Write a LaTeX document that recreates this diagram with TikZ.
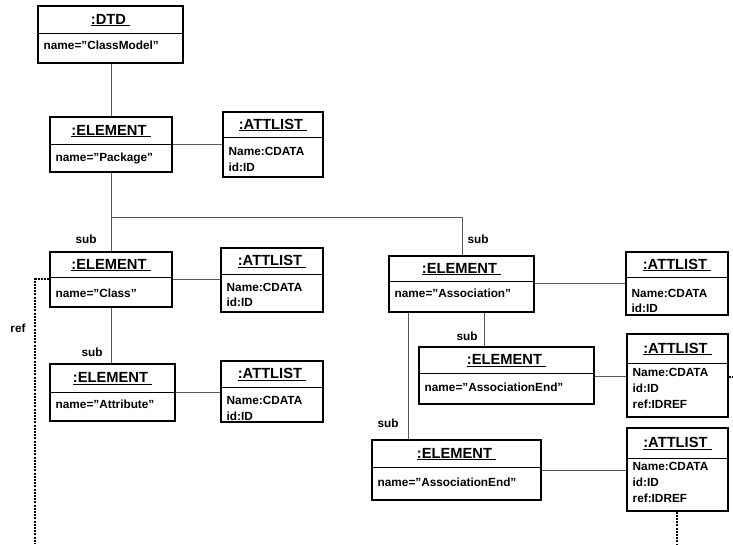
\documentclass[tikz,border=0pt]{standalone}
\usepackage{fontspec}
\setmainfont{Liberation Sans}
\usetikzlibrary{fit}
\tikzset{
  objframe/.style={draw=black, line width=1.2pt, inner sep=0pt},
  divline/.style={draw=black, line width=1pt},
  titletext/.style={font=\fontsize{14.7}{17}\selectfont\bfseries, inner sep=0pt},
  bodytext/.style={font=\fontsize{11.8}{15.8}\selectfont\bfseries, inner sep=0pt, align=left},
  tightbody/.style={font=\fontsize{11.8}{14.4}\selectfont\bfseries},
  lbl/.style={font=\fontsize{11.8}{14}\selectfont\bfseries, inner sep=0pt},
  conn/.style={draw=black!65, line width=0.9pt},
  refline/.style={draw=black, line width=1.4pt, dash pattern=on 2pt off 1.2pt},
}
% name, left, top, right, bottom, divider y, title
\newcommand\umlobj[7]{%
  \node[objframe, fit={(#2,#3)(#4,#5)}] (#1) {};
  \draw[divline] (#1.west |- 0,#6) -- (#1.east |- 0,#6);
  \node[titletext, anchor=base] (#1-title) at ({(#2+#4)/2},{(#3+#6)/2+4.5}) {\underline{#7\ }};
}
\begin{document}
\begin{tikzpicture}[x=1pt, y=-1pt]
\useasboundingbox (0,0) rectangle (733,544);

% objects
\umlobj{dtd}{38}{6}{183}{63}{33}{:DTD}
\node[bodytext, anchor=north west] (dtd-body) at (43.5,40.7) {name=”ClassModel”};

\umlobj{pkg}{50}{117}{172}{172}{144}{:ELEMENT}
\node[bodytext, anchor=north west] (pkg-body) at (55.5,152.7) {name=”Package”};

\umlobj{pkgatt}{223}{112}{323}{177}{137}{:ATTLIST}
\node[bodytext, anchor=north west] (pkgatt-body) at (228.5,147.5) {Name:CDATA\\id:ID};

\umlobj{cls}{50}{252}{172}{307}{277}{:ELEMENT}
\node[bodytext, anchor=north west] (cls-body) at (55.5,288.4) {name=”Class”};

\umlobj{clsatt}{221}{248}{323}{312}{274}{:ATTLIST}
\node[bodytext, anchor=north west] (clsatt-body) at (226.5,282.7) {Name:CDATA\\id:ID};

\umlobj{attr}{50}{364}{175}{421}{392}{:ELEMENT}
\node[bodytext, anchor=north west] (attr-body) at (55.5,399.7) {name=”Attribute”};

\umlobj{attratt}{221}{361}{323}{422}{387}{:ATTLIST}
\node[bodytext, anchor=north west] (attratt-body) at (226.5,396) {Name:CDATA\\id:ID};

\umlobj{assoc}{389}{256}{534}{312}{281}{:ELEMENT}
\node[bodytext, anchor=north west] (assoc-body) at (394.5,289) {name=”Association”};

\umlobj{assocatt}{626}{252}{728}{315}{277}{:ATTLIST}
\node[bodytext, tightbody, anchor=north west] (assocatt-body) at (631.5,289.2) {Name:CDATA\\id:ID};

\umlobj{aeone}{419}{347}{594}{404}{373}{:ELEMENT}
\node[bodytext, anchor=north west] (aeone-body) at (424.5,382.7) {name=”AssociationEnd”};

\umlobj{aeoneatt}{627}{334}{728}{417}{363}{:ATTLIST}
\node[bodytext, anchor=north west] (aeoneatt-body) at (632.5,368.5) {Name:CDATA\\id:ID\\ref:IDREF};

\umlobj{aetwo}{372}{440}{541}{500}{467}{:ELEMENT}
\node[bodytext, anchor=north west] (aetwo-body) at (377.5,477.7) {name=”AssociationEnd”};

\umlobj{aetwoatt}{627}{428}{728}{511}{458}{:ATTLIST}
\node[bodytext, anchor=north west] (aetwoatt-body) at (632.5,462.5) {Name:CDATA\\id:ID\\ref:IDREF};

% connectors
\draw[conn] (dtd.south -| 111,0) -- (pkg.north -| 111,0);
\draw[conn] (pkg.east |- 0,144) -- (pkgatt.west |- 0,144);
\draw[conn] (pkg.south -| 111,0) -- (cls.north -| 111,0);
\draw[conn] (pkg.south -| 111,0) ++(0,45) -| (assoc.north -| 462,0);
\draw[conn] (cls.east |- 0,279) -- (clsatt.west |- 0,279);
\draw[conn] (cls.south -| 111,0) -- (attr.north -| 111,0);
\draw[conn] (attr.east |- 0,392) -- (attratt.west |- 0,392);
\draw[conn] (assoc.east |- 0,283) -- (assocatt.west |- 0,283);
\draw[conn] (assoc.south -| 484,0) -- (aeone.north -| 484,0);
\draw[conn] (assoc.south -| 408,0) -- (aetwo.north -| 408,0);
\draw[conn] (aeone.east |- 0,376) -- (aeoneatt.west |- 0,376);
\draw[conn] (aetwo.east |- 0,470) -- (aetwoatt.west |- 0,470);

% ref lines
\coordinate (refbend) at (35,279);
\coordinate (refend) at (35,544);
\draw[refline] (cls.west |- refbend) -- (refbend) -- (refend);
\coordinate (rightend) at (733,377);
\draw[refline] (aeoneatt.east |- rightend) -- (rightend);
\coordinate (bottomend) at (677,544);
\draw[refline] (aetwoatt.south -| bottomend) -- (bottomend);

% labels
\node[lbl] (sub1) at (86,239) {sub};
\node[lbl] (sub2) at (478,239) {sub};
\node[lbl] (sub3) at (92,352) {sub};
\node[lbl] (sub4) at (467,336) {sub};
\node[lbl] (sub5) at (388,423) {sub};
\node[lbl] (ref) at (18,328) {ref};
\end{tikzpicture}
\end{document}
